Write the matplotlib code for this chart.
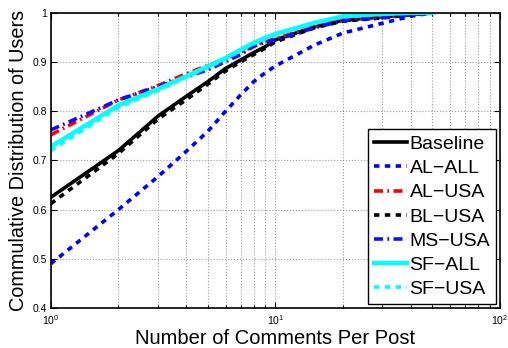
import matplotlib
matplotlib.use("Agg")
import matplotlib.pyplot as plt
from matplotlib.ticker import LogLocator, NullFormatter, LogFormatterMathtext

plt.rcParams['font.family'] = ['Liberation Sans', 'DejaVu Sans']
plt.rcParams['mathtext.fontset'] = 'custom'
plt.rcParams['mathtext.rm'] = 'Liberation Sans'

x = [1, 2, 3, 4, 5, 6, 7, 8, 9, 10, 15, 20, 30, 40, 50]

baseline = [0.625, 0.720, 0.790, 0.830, 0.860, 0.887, 0.904, 0.919, 0.931, 0.945, 0.972, 0.985, 0.992, 0.997, 1.0]
al_all   = [0.490, 0.600, 0.667, 0.718, 0.759, 0.800, 0.833, 0.860, 0.878, 0.892, 0.935, 0.959, 0.979, 0.993, 1.0]
al_usa   = [0.752, 0.823, 0.852, 0.876, 0.893, 0.907, 0.920, 0.932, 0.942, 0.948, 0.972, 0.986, 0.992, 0.997, 1.0]
bl_usa   = [0.612, 0.714, 0.784, 0.823, 0.855, 0.882, 0.900, 0.915, 0.928, 0.941, 0.970, 0.983, 0.990, 0.996, 1.0]
ms_usa   = [0.762, 0.823, 0.850, 0.870, 0.884, 0.901, 0.915, 0.932, 0.940, 0.945, 0.970, 0.984, 0.990, 0.996, 1.0]
sf_all   = [0.728, 0.812, 0.845, 0.871, 0.891, 0.908, 0.925, 0.939, 0.949, 0.957, 0.980, 0.993, 0.998, 1.0, 1.0]
sf_usa   = [0.720, 0.808, 0.842, 0.869, 0.889, 0.906, 0.923, 0.937, 0.947, 0.955, 0.979, 0.992, 0.997, 1.0, 1.0]

labels = ['Baseline', 'AL\u2212ALL', 'AL\u2212USA', 'BL\u2212USA', 'MS\u2212USA', 'SF\u2212ALL', 'SF\u2212USA']

fig = plt.figure(figsize=(5.08, 3.48), dpi=100)
ax = fig.add_axes([0.100, 0.115, 0.884, 0.848])

lw = 2.6
ax.plot(x, baseline, color='black', lw=lw, ls='-', label=labels[0])
ax.plot(x, al_all, color='#0000ff', lw=lw, ls=(0, (1.5, 1.5)), label=labels[1])
ax.plot(x, al_usa, color='#ff0000', lw=lw, ls=(0, (2.5, 1.2, 0.5, 1.2)), label=labels[2])
ax.plot(x, bl_usa, color='black', lw=lw, ls=(0, (1.5, 1.5)), label=labels[3])
ax.plot(x, ms_usa, color='#1010ff', lw=lw, ls=(0, (2.5, 1.2, 0.5, 1.2)), label=labels[4])
ax.plot(x, sf_all, color='#00ffff', lw=lw + 0.6, ls='-', label=labels[5])
ax.plot(x, sf_usa, color='#00ffff', lw=lw, ls=(0, (1.5, 1.5)), label=labels[6])

ax.set_xscale('log')
ax.set_xlim(1, 100)
ax.set_ylim(0.4, 1.0)
ax.set_yticks([0.4, 0.5, 0.6, 0.7, 0.8, 0.9, 1.0])
ax.set_yticklabels(['0.4', '0.5', '0.6', '0.7', '0.8', '0.9', '1'])
ax.xaxis.set_major_locator(LogLocator(base=10, numticks=5))
ax.xaxis.set_minor_locator(LogLocator(base=10, subs=range(2, 10), numticks=20))
ax.xaxis.set_minor_formatter(NullFormatter())
ax.xaxis.set_major_formatter(LogFormatterMathtext())

ax.tick_params(which='both', direction='in', top=True, right=True, labelsize=7.5, width=0.8, colors='black')
ax.tick_params(axis='y', pad=3)
ax.tick_params(which='major', length=4)
ax.tick_params(which='minor', length=2)
ax.grid(True, which='major', axis='both', ls=':', color='#999999', lw=0.8)
ax.grid(True, which='minor', axis='x', ls=':', color='#999999', lw=0.8)
for s in ax.spines.values():
    s.set_linewidth(1.2)

ax.set_xlabel('Number of Comments Per Post', fontsize=14.5, labelpad=2)
ax.set_ylabel('Commulative Distribution of Users', fontsize=14.3, labelpad=3)

leg = ax.legend(loc='lower right', fontsize=14, frameon=True, fancybox=False,
                edgecolor='black', framealpha=1, handlelength=1.7, handletextpad=0.15,
                labelspacing=0.34, borderpad=0.3, borderaxespad=0.2)
leg.get_frame().set_linewidth(1.0)

fig.savefig('out.png', dpi=100)
